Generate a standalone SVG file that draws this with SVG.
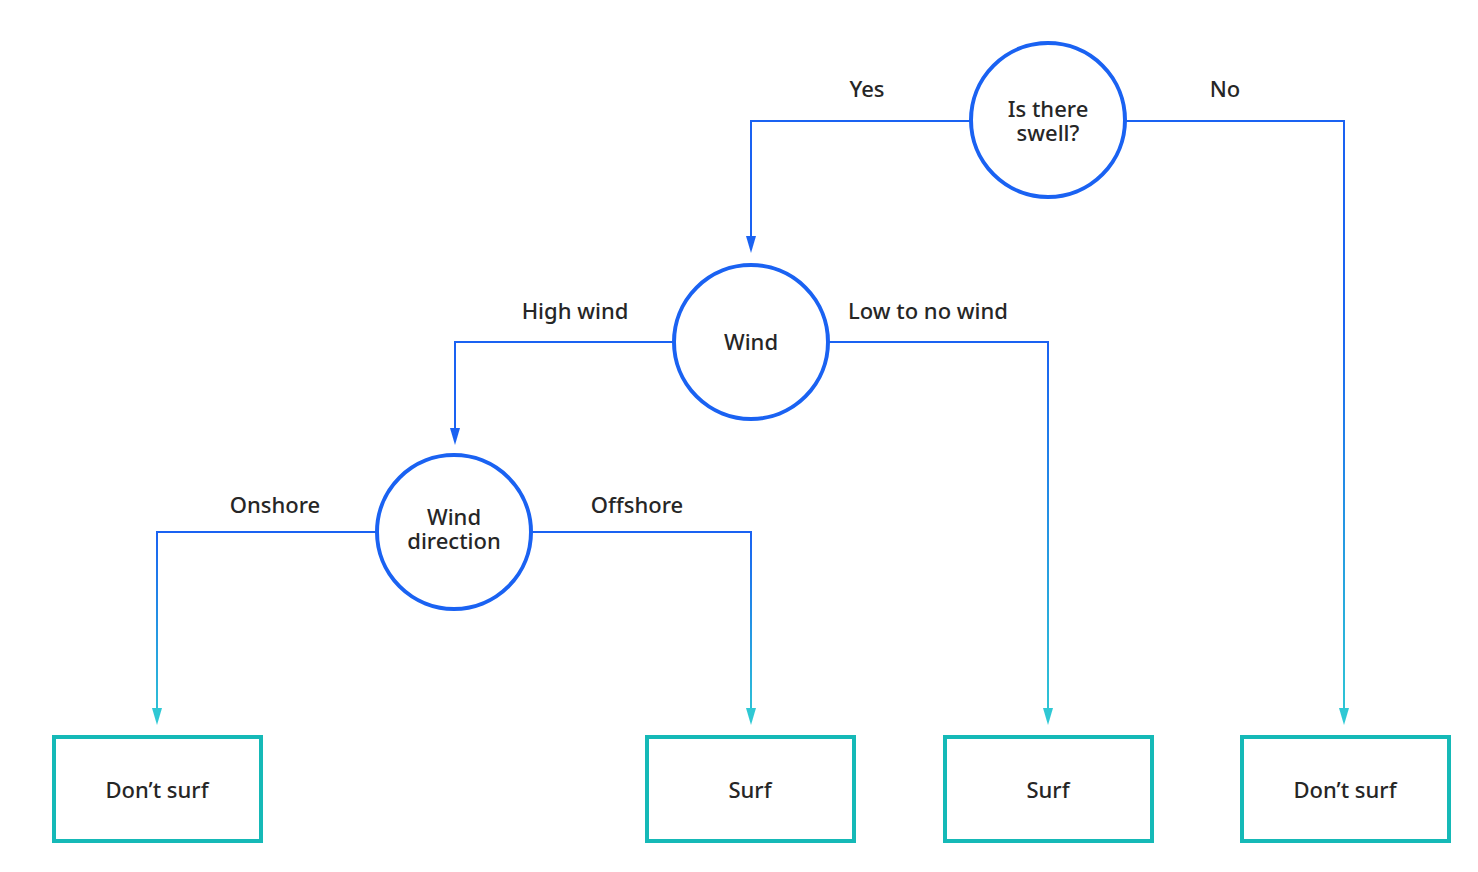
<svg xmlns="http://www.w3.org/2000/svg" width="1478" height="872" viewBox="0 0 1478 872">
<style>
.node circle{fill:#fff;stroke:#1a62f2;stroke-width:4}
.node rect{fill:#fff;stroke:#15b9b7;stroke-width:4}
text{font-family:"Noto Sans","Open Sans",sans-serif;font-size:22px;font-weight:500;fill:#262626;text-anchor:middle}
.c{fill:none;stroke-width:2}
.b{stroke:#1a62f2}
.hb{fill:#1a62f2}
.ht{fill:#2fc8d4}
</style>
<defs>
<linearGradient id="g1" gradientUnits="userSpaceOnUse" x1="0" y1="320" x2="0" y2="724"><stop offset="0" stop-color="#1a62f2"/><stop offset="1" stop-color="#2fc8d4"/></linearGradient>
<linearGradient id="g2" gradientUnits="userSpaceOnUse" x1="0" y1="342" x2="0" y2="724"><stop offset="0" stop-color="#1a62f2"/><stop offset="1" stop-color="#2fc8d4"/></linearGradient>
<linearGradient id="g3" gradientUnits="userSpaceOnUse" x1="0" y1="532" x2="0" y2="724"><stop offset="0" stop-color="#1a62f2"/><stop offset="1" stop-color="#2fc8d4"/></linearGradient>
</defs>
<g id="connectors">
<path class="c b" d="M970,121 H751 V236"/>
<path class="hb" d="M746,236 L756,236 L751,253 Z"/>
<path class="c b" d="M1125,121 H1345"/>
<path class="c" stroke="url(#g1)" d="M1344,120 V708"/>
<path class="ht" d="M1339,708 L1349,708 L1344,725 Z"/>
<path class="c b" d="M673,342 H455 V428"/>
<path class="hb" d="M450,428 L460,428 L455,445 Z"/>
<path class="c b" d="M829,342 H1049"/>
<path class="c" stroke="url(#g2)" d="M1048,341 V708"/>
<path class="ht" d="M1043,708 L1053,708 L1048,725 Z"/>
<path class="c b" d="M376,532 H156"/>
<path class="c" stroke="url(#g3)" d="M157,531 V708"/>
<path class="ht" d="M152,708 L162,708 L157,725 Z"/>
<path class="c b" d="M532,532 H752"/>
<path class="c" stroke="url(#g3)" d="M751,531 V708"/>
<path class="ht" d="M746,708 L756,708 L751,725 Z"/>
<text x="867" y="97">Yes</text>
<text x="1225" y="97">No</text>
<text x="575" y="319">High wind</text>
<text x="928" y="319">Low to no wind</text>
<text x="275" y="513">Onshore</text>
<text x="637" y="513">Offshore</text>
</g>
<g id="n-swell" class="node"><circle cx="1048" cy="120" r="77"/><text x="1048" y="117">Is there<tspan x="1048" dy="24">swell?</tspan></text></g>
<g id="n-wind" class="node"><circle cx="751" cy="342" r="77"/><text x="751" y="350">Wind</text></g>
<g id="n-dir" class="node"><circle cx="454" cy="532" r="77"/><text x="454" y="525">Wind<tspan x="454" dy="24">direction</tspan></text></g>
<g id="n-ds1" class="node"><rect x="54" y="737" width="207" height="104"/><text x="157" y="798">Don’t surf</text></g>
<g id="n-s1" class="node"><rect x="647" y="737" width="207" height="104"/><text x="750" y="798">Surf</text></g>
<g id="n-s2" class="node"><rect x="945" y="737" width="207" height="104"/><text x="1048" y="798">Surf</text></g>
<g id="n-ds2" class="node"><rect x="1242" y="737" width="207" height="104"/><text x="1345" y="798">Don’t surf</text></g>
</svg>
